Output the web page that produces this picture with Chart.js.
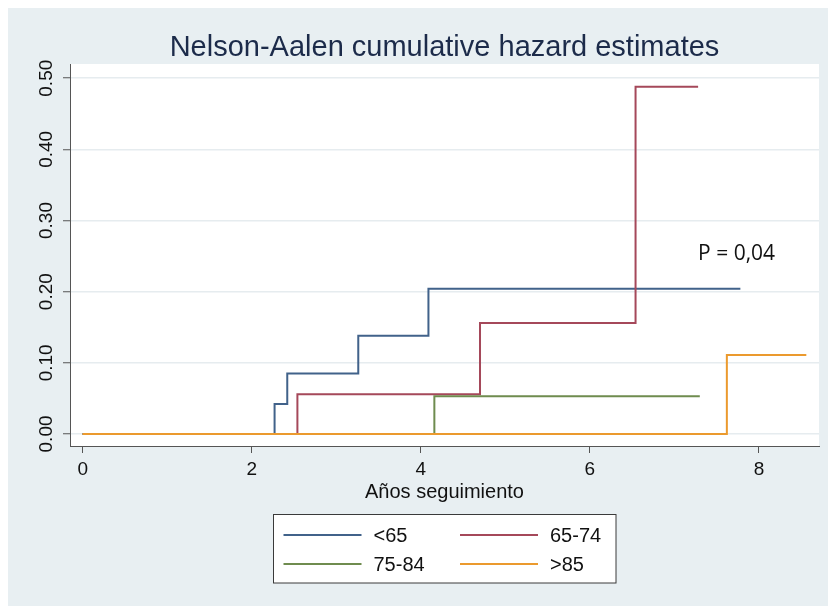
<!DOCTYPE html>
<html>
<head>
<meta charset="utf-8">
<script src="https://cdn.jsdelivr.net/npm/chart.js@4/dist/chart.umd.min.js"></script>
<style>
  html, body { margin: 0; padding: 0; background: #ffffff; }
  #wrap { width: 828px; height: 606px; }
</style>
</head>
<body>
<div id="wrap"><canvas id="chart" width="828" height="606"></canvas></div>
<script>
// Nelson-Aalen cumulative hazard by age group (years of follow-up)
const groupLabels = ['<65', '65-74', '75-84', '>85'];
const groupColors = ['#41628a', '#a5485a', '#6f8c4f', '#eb9a2e'];

const timesU65   = [0, 2.27, 2.42, 3.26, 4.09, 7.78];
const hazardU65  = [0, 0.042, 0.085, 0.138, 0.204, 0.204];

const times6574  = [0, 2.54, 4.70, 6.54, 7.28];
const hazard6574 = [0, 0.056, 0.156, 0.488, 0.488];

const times7584  = [0, 4.16, 7.30];
const hazard7584 = [0, 0.053, 0.053];

const times85    = [0, 7.62, 8.56];
const hazard85   = [0, 0.111, 0.111];

const xTickValues = [0, 2, 4, 6, 8];
const yTickValues = [0, 0.1, 0.2, 0.3, 0.4, 0.5];

const chartTitle = 'Nelson-Aalen cumulative hazard estimates';
const xAxisTitle = 'Años seguimiento';
const pValueText = 'P = 0,04';
const pValuePos  = { x: 7.28, y: 0.245 };

const seriesTimes  = [timesU65, times6574, times7584, times85];
const seriesHazard = [hazardU65, hazard6574, hazard7584, hazard85];

// Right-continuous step functions: flat until the event time, then jump
const datasets = groupLabels.map((label, i) => ({
  label,
  data: seriesTimes[i].map((t, k) => ({ x: t, y: seriesHazard[i][k] })),
  borderColor: groupColors[i],
  backgroundColor: groupColors[i],
  borderWidth: 2,
  stepped: 'before',
  pointRadius: 0,
  fill: false,
  order: groupLabels.length - i
}));

const FONT = '"Liberation Sans", Arial, sans-serif';

// Backgrounds: pale outer panel and white plot region
const backgroundPlugin = {
  id: 'panelBackground',
  beforeDraw(chart) {
    const { ctx, chartArea: a, width, height } = chart;
    ctx.save();
    ctx.fillStyle = '#ffffff';
    ctx.fillRect(0, 0, width, height);
    ctx.fillStyle = '#e8eff2';
    ctx.fillRect(8, 8, width - 8, height - 8);
    ctx.fillStyle = '#ffffff';
    ctx.fillRect(a.left, a.top, a.right - a.left, a.bottom - a.top);
    ctx.restore();
  }
};

// Title, p-value note and boxed two-column legend
const decorPlugin = {
  id: 'decor',
  afterDraw(chart) {
    const { ctx, chartArea: a } = chart;
    const cx = (a.left + a.right) / 2;
    ctx.save();

    ctx.fillStyle = '#1c2b4a';
    ctx.font = '29px ' + FONT;
    ctx.textAlign = 'center';
    ctx.textBaseline = 'alphabetic';
    ctx.fillText(chartTitle, cx, 56);

    const xs = chart.scales.x, ys = chart.scales.y;
    ctx.fillStyle = '#111111';
    ctx.font = '21px "Open Sans", sans-serif';
    ctx.textAlign = 'left';
    ctx.fillText(pValueText, xs.getPixelForValue(pValuePos.x), ys.getPixelForValue(pValuePos.y));

    const boxW = 342.5, boxH = 68.5;
    const bx = Math.round(cx - boxW / 2) + 0.5, by = a.bottom + 68.5;
    ctx.fillStyle = '#ffffff';
    ctx.fillRect(bx, by, boxW, boxH);
    ctx.strokeStyle = '#3a3a3a';
    ctx.lineWidth = 1;
    ctx.strokeRect(bx, by, boxW, boxH);

    ctx.font = '20px ' + FONT;
    ctx.textBaseline = 'middle';
    chart.data.datasets.forEach((ds, i) => {
      const col = i % 2, row = Math.floor(i / 2);
      const x0 = bx + 10 + col * 176.5;
      const y0 = by + 20.5 + row * 29;
      ctx.strokeStyle = ds.borderColor;
      ctx.lineWidth = 2;
      ctx.beginPath();
      ctx.moveTo(x0, y0);
      ctx.lineTo(x0 + 78, y0);
      ctx.stroke();
      ctx.fillStyle = '#111111';
      ctx.fillText(ds.label, x0 + 90, y0 + 1);
    });
    ctx.restore();
  }
};

new Chart(document.getElementById('chart'), {
  type: 'line',
  data: { datasets },
  plugins: [backgroundPlugin, decorPlugin],
  options: {
    responsive: false,
    animation: false,
    layout: { padding: { left: 0, right: 9, top: 64, bottom: 100 } },
    plugins: {
      legend: { display: false },
      title: { display: false },
      tooltip: { enabled: false }
    },
    scales: {
      x: {
        type: 'linear',
        min: -0.150,
        max: 8.71,
        afterBuildTicks(scale) { scale.ticks = xTickValues.map(v => ({ value: v })); },
        afterFit(scale) { scale.height = 60; },
        ticks: {
          color: '#111111',
          font: { family: FONT, size: 19 },
          padding: 5,
          maxRotation: 0,
          callback: v => String(v)
        },
        grid: {
          drawOnChartArea: false,
          drawTicks: true,
          tickLength: 7,
          tickColor: '#555555',
          tickWidth: 1
        },
        border: { display: true, color: '#555555', width: 1 },
        title: {
          display: true,
          text: xAxisTitle,
          color: '#111111',
          font: { family: FONT, size: 20 },
          padding: { top: 0, bottom: 2 }
        }
      },
      y: {
        type: 'linear',
        min: -0.0169,
        max: 0.520,
        afterBuildTicks(scale) { scale.ticks = yTickValues.map(v => ({ value: v })); },
        afterFit(scale) { scale.width = 70; },
        ticks: {
          color: '#111111',
          font: { family: FONT, size: 19 },
          minRotation: 90,
          maxRotation: 90,
          crossAlign: 'center',
          padding: -2,
          callback: v => Number(v).toFixed(2)
        },
        grid: {
          color: '#e6ecef',
          lineWidth: 1.5,
          drawTicks: true,
          tickLength: 7,
          tickColor: '#555555',
          tickWidth: 1
        },
        border: { display: true, color: '#555555', width: 1 }
      }
    }
  }
});
</script>
</body>
</html>
